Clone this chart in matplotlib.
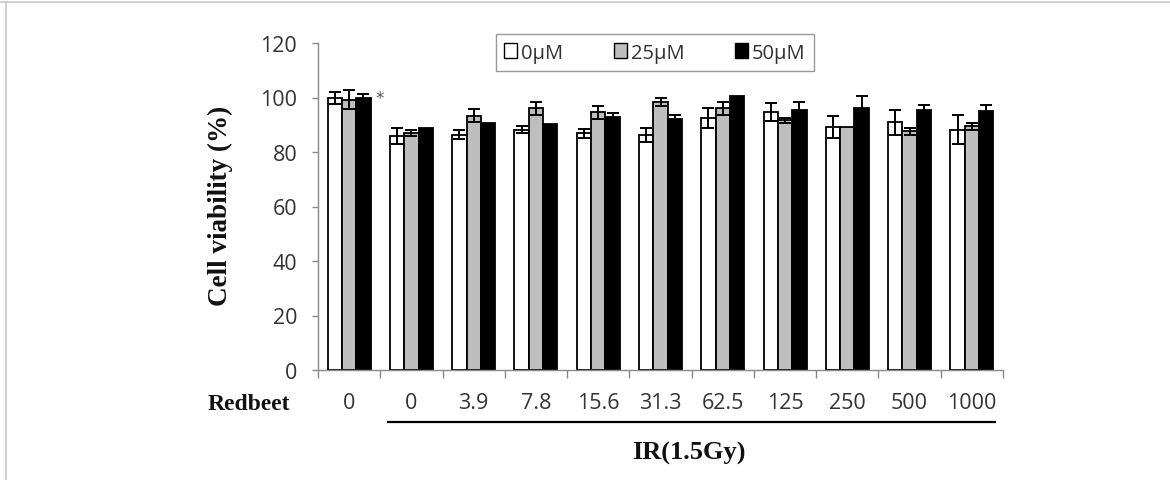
import numpy as np
import matplotlib
matplotlib.use("Agg")
import matplotlib.pyplot as plt
from matplotlib.patches import Patch
from matplotlib.lines import Line2D

# --- Datos ---
groups = ["0", "0", "3.9", "7.8", "15.6", "31.3", "62.5", "125", "250", "500", "1000"]
series = ["0\u00b5M", "25\u00b5M", "50\u00b5M"]

white = [99.8, 85.8, 86.3, 88.2, 86.9, 86.2, 92.5, 94.6, 89.3, 90.9, 88.2]
white_err = [2.2, 3.0, 1.6, 1.4, 1.6, 2.5, 3.8, 3.2, 4.0, 4.5, 5.2]
gray = [99.2, 87.0, 93.3, 96.1, 94.6, 98.2, 96.0, 91.6, 89.1, 87.6, 89.4]
gray_err = [3.4, 1.2, 2.3, 2.4, 2.4, 1.5, 2.5, 0.8, 0.0, 1.3, 1.4]
black = [99.9, 88.8, 90.5, 90.4, 93.0, 92.1, 100.5, 95.5, 96.3, 95.5, 94.9]
black_err = [1.5, 0.0, 0.0, 0.0, 1.3, 1.4, 0.0, 2.8, 4.4, 1.6, 2.2]

values = [white, gray, black]
errors = [white_err, gray_err, black_err]
colors = ["white", "#bebebe", "black"]

TXT = "#333333"
AX = "#8a8a8a"
sans = ["Open Sans", "DejaVu Sans"]
serif = ["Liberation Serif", "DejaVu Serif"]

fig = plt.figure(figsize=(11.7, 4.81), dpi=100)
ax = fig.add_axes([318/1170, 1-371/481, (1003-318)/1170, (371-44)/481])

x = np.arange(len(groups))
w = 0.23
for i in range(3):
    xs = x + (i-1)*w
    ax.bar(xs, values[i], w, color=colors[i], edgecolor="black", linewidth=1.3, zorder=2)
    e = np.array(errors[i])
    m = e > 0
    ax.errorbar(xs[m], np.array(values[i])[m], yerr=e[m], fmt="none", ecolor="black",
                elinewidth=1.4, capsize=4, capthick=1.4, zorder=3)

# asterisco
ax.text(x[0] + 1.5*w + 0.14, values[2][0], "*", ha="center", va="center",
        fontsize=12, color="#555555")

ax.set_xlim(-0.5, len(groups)-0.5)
ax.set_ylim(0, 120)
ax.set_yticks(np.arange(0, 121, 20))
ax.set_xticks(x)
ax.set_xticklabels(groups)
ax.set_xticks(np.arange(-0.5, len(groups), 1), minor=True)
ax.tick_params(axis="x", which="major", length=0, pad=16, labelsize=15.5, labelcolor=TXT)
ax.tick_params(axis="x", which="minor", length=6, width=1, color=AX, direction="out")
ax.tick_params(axis="y", length=4, width=1, color=AX, pad=11, labelsize=15.5, labelcolor=TXT)
for lab in ax.get_xticklabels() + ax.get_yticklabels():
    lab.set_family(sans)
for s in ["top", "right"]:
    ax.spines[s].set_visible(False)
for s in ["left", "bottom"]:
    ax.spines[s].set_color(AX)
    ax.spines[s].set_linewidth(1)

# linea bajo los grupos IR
ax.plot([0.62, 10.37], [-0.159, -0.159], color="black", linewidth=1.6,
        transform=ax.get_xaxis_transform(), clip_on=False)

fig.text(220/1170, 1-206/481, "Cell viability (%)", rotation=90, ha="center", va="center",
         fontsize=19.5, fontweight="bold", family=serif, color="#111111")
fig.text(249/1170, 1-404/481, "Redbeet", ha="center", va="center",
         fontsize=17, fontweight="bold", family=serif, color="#111111")
fig.text(689/1170, 1-453/481, "IR(1.5Gy)", ha="center", va="center",
         fontsize=19, fontweight="bold", family=serif, color="#111111")

handles = [Patch(facecolor=c, edgecolor="black", linewidth=1) for c in colors]
leg = fig.legend(handles, series, loc="center", bbox_to_anchor=(655/1170, 1-53.5/481),
                 ncol=3, frameon=True, fancybox=False,
                 prop={"family": sans, "size": 14.5}, handlelength=0.65, handleheight=0.75,
                 handletextpad=0.2, columnspacing=2.5, borderpad=0.4)
leg.get_frame().set_edgecolor("#808080")
leg.get_frame().set_linewidth(1)
for t in leg.get_texts():
    t.set_color(TXT)

# marco gris de la imagen
fig.add_artist(Line2D([0, 1], [1-3/481, 1-3/481], color="#c8c8c8", linewidth=1.2))
fig.add_artist(Line2D([6/1170, 6/1170], [0, 1-3/481], color="#c8c8c8", linewidth=1.2))

fig.savefig("out.png", dpi=100)
